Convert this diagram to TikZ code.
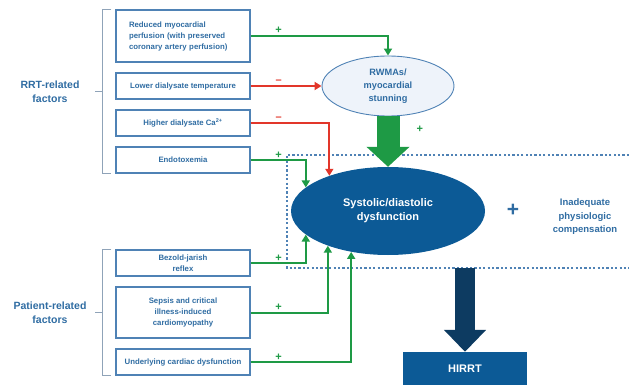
\documentclass[tikz,border=0pt]{standalone}
\usepackage{fontspec}
\setmainfont{Liberation Sans}
\usetikzlibrary{shapes.geometric,arrows.meta,calc}
\definecolor{txtblue}{HTML}{2F6CA2}
\definecolor{boxblue}{HTML}{4F82B5}
\definecolor{darkblue}{HTML}{0C5A96}
\definecolor{navyblue}{HTML}{0D3B61}
\definecolor{plusgreen}{HTML}{1E9A45}
\definecolor{minusred}{HTML}{E2362A}
\definecolor{paleblue}{HTML}{EEF3FA}
\definecolor{bracketgray}{HTML}{8FA3B8}
\tikzstyle{factor}=[draw=boxblue,line width=1.2pt,minimum width=134pt,minimum height=26pt,inner sep=2pt,text=txtblue,font=\fontsize{7.8}{11}\selectfont\bfseries,align=center]
\tikzstyle{stun}=[ellipse,draw=boxblue,line width=.9pt,fill=paleblue,minimum width=132pt,minimum height=60pt,inner sep=0pt,text=txtblue,font=\fontsize{9.2}{13}\selectfont\bfseries,align=center]
\tikzstyle{dysf}=[ellipse,fill=darkblue,minimum width=194pt,minimum height=88pt,inner sep=0pt,text=white,font=\fontsize{11}{14}\selectfont\bfseries,align=center]
\tikzstyle{outcome}=[fill=darkblue,minimum width=124pt,minimum height=34pt,text=white,font=\fontsize{11}{13}\selectfont\bfseries]
\tikzstyle{group}=[text=txtblue,font=\fontsize{10.5}{14}\selectfont\bfseries,align=center]
\tikzstyle{sign}=[inner sep=1pt,font=\fontsize{11}{11}\selectfont\bfseries]
\tikzstyle{posline}=[plusgreen,line width=2pt,-{Triangle[length=7pt,width=8pt]}]
\tikzstyle{negline}=[minusred,line width=2pt,-{Triangle[length=7pt,width=8pt]}]
\tikzstyle{bracket}=[bracketgray,line width=.9pt]
\tikzstyle{frame}=[boxblue,line width=1.4pt,dash pattern=on 2.2pt off 2.2pt]

\begin{document}
\begin{tikzpicture}[x=1pt, y=-1pt]
	\useasboundingbox (0,0) rectangle (629,385);
	%dotted frame
	\coordinate (ftl) at (287,155);
	\coordinate (fbl) at (287,268);
	\draw[frame] (629,155) -- (ftl) -- (fbl) -- (629,268);
	%factors
	\node[factor, minimum height=52pt, text width=108pt, align=left] (perf) at (183,36) {Reduced myocardial\\perfusion (with preserved\\coronary artery perfusion)};
	\node[factor] (temp) at (183,86) {Lower dialysate temperature};
	\node[factor] (calcium) at (183,123) {Higher dialysate Ca\textsuperscript{2+}};
	\node[factor] (endo) at (183,160) {Endotoxemia};
	\node[factor] (bezold) at (183,263) {Bezold-jarish\\reflex};
	\node[factor, minimum height=51pt] (sepsis) at (183,312.5) {Sepsis and critical\\illness-induced\\cardiomyopathy};
	\node[factor] (cardiac) at (183,362) {Underlying cardiac dysfunction};
	%groups
	\draw[bracket] ([xshift=-4pt]perf.north west) -- ++(-9,0) coordinate (rrttop) |- ([xshift=-4pt]endo.south west);
	\draw[bracket] ($(rrttop)!.5!(rrttop |- endo.south)$) -- ++(-7,0);
	\node[group] (rrt) at (50,92) {RRT-related\\factors};
	\draw[bracket] ([xshift=-4pt]bezold.north west) -- ++(-9,0) coordinate (pattop) |- ([xshift=-4pt]cardiac.south west);
	\draw[bracket] ($(pattop)!.5!(pattop |- cardiac.south)$) -- ++(-7,0);
	\node[group] (patient) at (50,313) {Patient-related\\factors};
	%effects
	\node[stun] (rwma) at (388,86) {RWMAs/\\myocardial\\stunning};
	\node[dysf] (sd) at (388,211) {Systolic/diastolic\\dysfunction};
	\node[group, font=\fontsize{21}{21}\selectfont\bfseries] (plus) at (513,210) {+};
	\node[group, font=\fontsize{9.5}{13.5}\selectfont\bfseries] (comp) at (585,217) {Inadequate\\physiologic\\compensation};
	\node[outcome] (hirrt) at (465,369) {HIRRT};
	%arrows
	\draw[posline] (perf.east) -- ++(28,0) node[sign, above]{+} -| (rwma.north);
	\draw[negline] (temp.east) -- ++(28,0) node[sign, above]{--} -- (rwma.west);
	\draw[negline] (calcium.east) -- ++(28,0) node[sign, above]{--} -| (sd.149);
	\draw[posline] (endo.east) -- ++(28,0) node[sign, above]{+} -| (sd.164);
	\draw[posline] (bezold.east) -- ++(28,0) node[sign, above]{+} -| (sd.196);
	\draw[posline] (sepsis.east) -- ++(28,0) node[sign, above]{+} -| (sd.210);
	\draw[posline] (cardiac.east) -- ++(28,0) node[sign, above]{+} -| (sd.228);
	\draw[plusgreen, line width=23pt, -{Triangle[length=20pt,width=42pt]}] (rwma.south) -- node[sign, pos=.25, right=16pt]{+} (sd.north);
	\draw[navyblue, line width=20pt, -{Triangle[length=22pt,width=41pt]}] (hirrt.north |- fbl) -- (hirrt.north);
\end{tikzpicture}
\end{document}
